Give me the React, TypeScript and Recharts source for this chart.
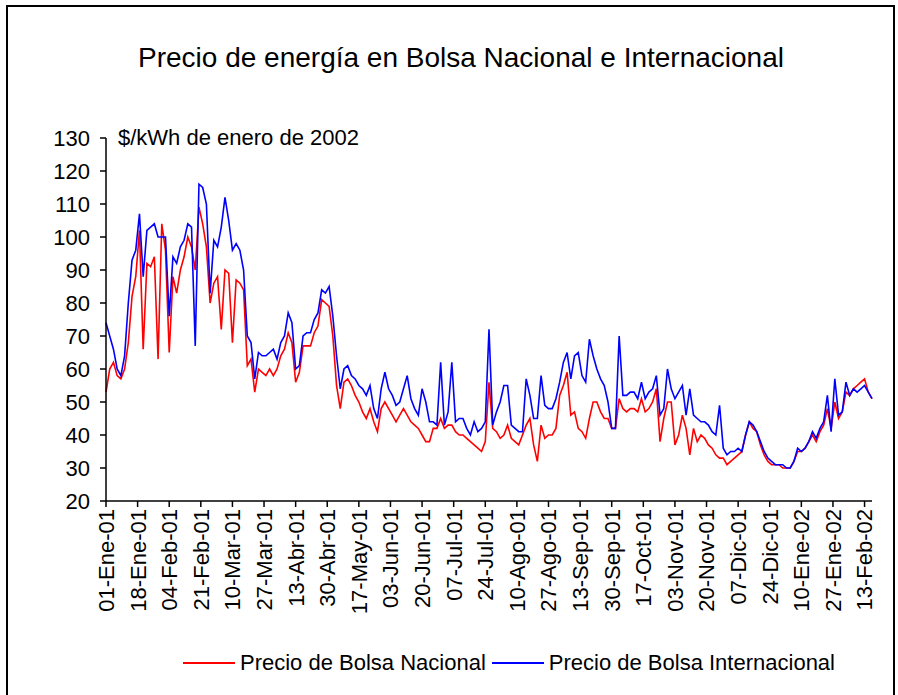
import { LineChart, Line, XAxis, YAxis } from 'recharts';

// precio diario muestreado cada 2 días, desde 01-Ene-01 (día 0) hasta día 412
const DAY_STEP = 2;

const NACIONAL = [
  53, 60, 62, 58, 57, 60, 68, 82, 88, 102,
  66, 92, 91, 94, 63, 104, 96, 65, 88, 83,
  90, 94, 100, 97, 90, 109, 104, 97, 80, 86,
  88, 72, 90, 89, 68, 87, 86, 84, 61, 63,
  53, 60, 59, 58, 60, 58, 60, 64, 66, 71,
  68, 56, 59, 67, 67, 67, 71, 73, 81, 80,
  79, 70, 55, 48, 56, 57, 55, 52, 50, 47,
  45, 48, 44, 41, 48, 50, 48, 46, 44, 46,
  48, 46, 44, 43, 42, 40, 38, 38, 42, 42,
  45, 42, 43, 43, 41, 40, 40, 39, 38, 37,
  36, 35, 38, 56, 42, 41, 39, 40, 43, 39,
  38, 37, 40, 43, 45, 37, 32, 43, 39, 40,
  40, 42, 52, 55, 59, 46, 47, 42, 41, 39,
  45, 50, 50, 47, 45, 45, 42, 42, 51, 48,
  47, 48, 48, 47, 51, 47, 48, 50, 54, 38,
  45, 50, 50, 37, 40, 46, 42, 34, 42, 38,
  40, 39, 37, 36, 34, 33, 33, 31, 32, 33,
  34, 35, 40, 44, 42, 41, 37, 34, 32, 31,
  31, 31, 30, 30, 30, 32, 35, 35, 36, 38,
  40, 38, 41, 43, 48, 42, 50, 45, 47, 53,
  52, 54, 55, 56, 57, 53, 51,
];

const INTERNACIONAL = [
  74, 70, 66, 60, 58, 64, 80, 93, 96, 107,
  88, 102, 103, 104, 100, 100, 100, 76, 94, 92,
  97, 99, 104, 103, 67, 116, 115, 110, 83, 99,
  97, 103, 112, 105, 96, 98, 96, 90, 70, 68,
  57, 65, 64, 64, 65, 66, 63, 68, 70, 77,
  74, 60, 61, 70, 71, 71, 75, 77, 84, 83,
  85, 76, 64, 54, 60, 61, 58, 57, 55, 54,
  52, 55, 48, 45, 54, 59, 54, 52, 49, 50,
  54, 58, 51, 48, 46, 54, 50, 44, 44, 43,
  62, 43, 47, 62, 44, 45, 45, 42, 40, 44,
  41, 42, 44, 72, 43, 47, 50, 55, 55, 43,
  42, 41, 41, 57, 52, 45, 45, 58, 49, 48,
  48, 51, 56, 62, 65, 57, 64, 65, 58, 56,
  69, 64, 60, 57, 55, 50, 42, 42, 70, 52,
  52, 53, 53, 51, 56, 51, 53, 54, 58, 46,
  48, 60, 54, 51, 53, 55, 46, 54, 46, 45,
  44, 44, 43, 41, 40, 49, 36, 34, 35, 35,
  36, 35, 40, 44, 43, 41, 38, 35, 33, 32,
  31, 31, 31, 30, 30, 32, 36, 35, 36, 38,
  41, 39, 42, 44, 52, 41, 57, 46, 47, 56,
  52, 54, 53, 54, 55, 53, 51,
];

const TICK_DAYS = [
  0, 17, 34, 51, 68, 85, 102, 119, 136, 153, 170, 187, 204,
  221, 238, 255, 272, 289, 306, 323, 340, 357, 374, 391, 408,
];

const TICK_LABELS = [
  '01-Ene-01', '18-Ene-01', '04-Feb-01', '21-Feb-01', '10-Mar-01', '27-Mar-01',
  '13-Abr-01', '30-Abr-01', '17-May-01', '03-Jun-01', '20-Jun-01', '07-Jul-01',
  '24-Jul-01', '10-Ago-01', '27-Ago-01', '13-Sep-01', '30-Sep-01', '17-Oct-01',
  '03-Nov-01', '20-Nov-01', '07-Dic-01', '24-Dic-01', '10-Ene-02', '27-Ene-02',
  '13-Feb-02',
];

const Y_TICKS = [20, 30, 40, 50, 60, 70, 80, 90, 100, 110, 120, 130];

const FONT = '"Liberation Sans", Arial, sans-serif';
const RED = '#FF0000';
const BLUE = '#0000FF';

const data = NACIONAL.map((v, i) => ({
  day: i * DAY_STEP,
  nacional: v,
  internacional: INTERNACIONAL[i],
}));

function DateTick({ x, y, payload }: { x: number; y: number; payload: { value: number } }) {
  const idx = TICK_DAYS.indexOf(payload.value);
  return (
    <g transform={`translate(${x},${y})`}>
      <text
        transform="rotate(-90)"
        textAnchor="end"
        dy="0.36em"
        fontSize={22}
        fontFamily={FONT}
        fill="#000"
      >
        {TICK_LABELS[idx]}
      </text>
    </g>
  );
}

export default function App() {
  return (
    <div
      style={{
        position: 'absolute',
        left: 0,
        top: 0,
        width: 898,
        height: 695,
        background: '#fff',
        overflow: 'hidden',
        fontFamily: FONT,
      }}
    >
      {/* marco */}
      <div
        style={{
          position: 'absolute',
          left: 6,
          top: 5,
          width: 885,
          height: 720,
          border: '2px solid #000',
        }}
      />

      <div
        style={{
          position: 'absolute',
          left: 0,
          width: 922,
          top: 40,
          textAlign: 'center',
          fontSize: 28,
          color: '#000',
          lineHeight: '36px',
        }}
      >
        Precio de energía en Bolsa Nacional e Internacional
      </div>

      <div
        style={{
          position: 'absolute',
          left: 118,
          top: 125,
          fontSize: 22,
          lineHeight: '26px',
          color: '#000',
        }}
      >
        $/kWh de enero de 2002
      </div>

      <div style={{ position: 'absolute', left: 0, top: 0 }}>
        <LineChart
          width={898}
          height={695}
          data={data}
          margin={{ top: 138, right: 26, left: 0, bottom: 64 }}
        >
          <XAxis
            dataKey="day"
            type="number"
            domain={[0, 412]}
            ticks={TICK_DAYS}
            interval={0}
            height={130}
            tickSize={6}
            tickMargin={2}
            tick={DateTick}
            stroke="#000"
            axisLine={{ stroke: '#000', strokeWidth: 1.5 }}
            tickLine={{ stroke: '#000', strokeWidth: 1.5 }}
          />
          <YAxis
            type="number"
            domain={[20, 130]}
            ticks={Y_TICKS}
            interval={0}
            width={106}
            tickSize={6}
            tickMargin={10}
            tick={{ fontSize: 22, fill: '#000', fontFamily: FONT }}
            axisLine={{ stroke: '#000', strokeWidth: 1.5 }}
            tickLine={{ stroke: '#000', strokeWidth: 1.5 }}
          />
          <Line
            type="linear"
            dataKey="nacional"
            stroke={RED}
            strokeWidth={1.6}
            dot={false}
            isAnimationActive={false}
          />
          <Line
            type="linear"
            dataKey="internacional"
            stroke={BLUE}
            strokeWidth={1.6}
            dot={false}
            isAnimationActive={false}
          />
        </LineChart>
      </div>

      {/* leyenda */}
      <div
        style={{
          position: 'absolute',
          left: 183,
          top: 650,
          display: 'flex',
          alignItems: 'center',
          fontSize: 22,
          lineHeight: '26px',
          color: '#000',
          whiteSpace: 'nowrap',
        }}
      >
        <span style={{ display: 'inline-block', width: 52, height: 2, background: RED, marginRight: 5 }} />
        <span>Precio de Bolsa Nacional</span>
        <span style={{ display: 'inline-block', width: 52, height: 2, background: BLUE, marginLeft: 6, marginRight: 5 }} />
        <span>Precio de Bolsa Internacional</span>
      </div>
    </div>
  );
}
